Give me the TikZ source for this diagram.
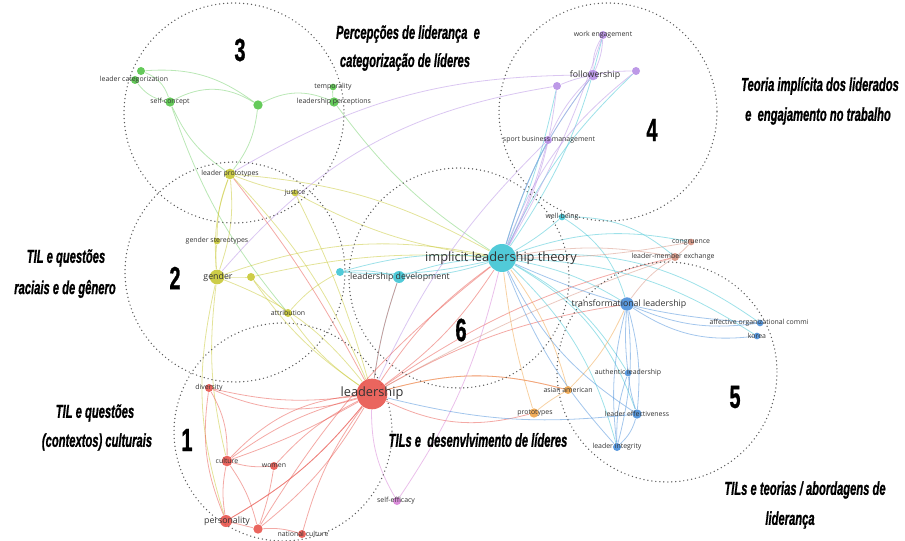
\documentclass[tikz,border=0pt]{standalone}
\usepackage{fontspec}
\usepackage{graphicx}
\setmainfont{Open Sans}
\newfontfamily\titlefont[BoldItalicFeatures={FakeBold=1.2},BoldFeatures={FakeBold=1.2}]{Liberation Sans}
\usetikzlibrary{backgrounds}

\definecolor{cRed}{RGB}{232,84,76}
\definecolor{cCyan}{RGB}{62,196,212}
\definecolor{cGreen}{RGB}{84,196,72}
\definecolor{cYel}{RGB}{200,200,52}
\definecolor{cPur}{RGB}{182,142,228}
\definecolor{cBlue}{RGB}{72,142,218}
\definecolor{cOra}{RGB}{240,164,72}
\definecolor{cBrn}{RGB}{214,146,128}
\definecolor{cPink}{RGB}{214,128,214}

\newcommand{\ttl}[1]{\scalebox{0.6}[1]{\titlefont\bfseries\itshape #1}}
\newcommand{\cnum}[1]{\scalebox{0.62}[1]{\titlefont\bfseries #1}}

\pgfdeclarelayer{edges}
\pgfsetlayers{edges,main}

\tikzset{every picture/.style={line width=0.75pt}}
\tikzset{
  ring/.style={draw=black!65, line width=1.1pt, line cap=round, dash pattern=on 0pt off 3pt},
  dot/.style={circle, inner sep=0pt, draw=none, fill opacity=0.9},
  lbl/.style={font=\fontsize{5.2}{6}\selectfont, text=black!80, inner sep=0pt},
  lblm/.style={font=\fontsize{6.6}{8}\selectfont, text=black!80, inner sep=0pt},
  lblb/.style={font=\fontsize{9.6}{11}\selectfont, text=black!80, inner sep=0pt},
  ttlnode/.style={font=\fontsize{14}{16}\selectfont, inner sep=0pt},
  numnode/.style={font=\fontsize{24}{26}\selectfont, inner sep=0pt},
  edge/.style={line width=0.6pt, draw opacity=0.5},
  eR/.style={edge, draw=cRed},
  eC/.style={edge, draw=cCyan},
  eG/.style={edge, draw=cGreen!80},
  eY/.style={edge, draw=cYel},
  eP/.style={edge, draw=cPur},
  eB/.style={edge, draw=cBlue},
  eO/.style={edge, draw=cOra},
  eN/.style={edge, draw=cBrn},
  eK/.style={edge, draw=cPink}
}

\begin{document}
\begin{tikzpicture}[x=0.75pt,y=0.75pt,yscale=-1,xscale=1]
\useasboundingbox (0,0) rectangle (905,541);

%Shape: Circle (clusters)
\draw[ring] (234,113) circle (110);
\draw[ring] (235,272) circle (110);
\draw[ring] (283,432) circle (109);
\draw[ring] (459,278) circle (110);
\draw[ring] (608,112) circle (109);
\draw[ring] (667,372) circle (110);

%Dots: cluster 3
\node[dot, fill=cGreen, minimum size=6pt] (lc) at (135,80) {};
\node[dot, fill=cGreen, minimum size=6pt] (lc2) at (141,71) {};
\node[dot, fill=cGreen, minimum size=7pt] (sc) at (170,102) {};
\node[dot, fill=cGreen, minimum size=7pt] (g3) at (258,105) {};
\node[dot, fill=cGreen, minimum size=5pt] (tmp) at (333,87) {};
\node[dot, fill=cGreen, minimum size=7pt] (lp) at (334,102) {};
%Dots: cluster 2
\node[dot, fill=cYel, minimum size=8pt] (lpro) at (230,174) {};
\node[dot, fill=cYel, minimum size=5pt] (jus) at (295,193) {};
\node[dot, fill=cYel, minimum size=5pt] (gs) at (217,241) {};
\node[dot, fill=cYel, minimum size=11pt] (gen) at (217,277) {};
\node[dot, fill=cYel, minimum size=6pt] (y2) at (251,277) {};
\node[dot, fill=cYel, minimum size=6pt] (att) at (288,313) {};
%Dots: cluster 6
\node[dot, fill=cCyan, minimum size=21pt] (ilt) at (502,258) {};
\node[dot, fill=cCyan, minimum size=9pt] (ld) at (399,277) {};
\node[dot, fill=cCyan, minimum size=6pt] (c2) at (340,272) {};
\node[dot, fill=cCyan, minimum size=5pt] (wb) at (562,217) {};
%Dots: cluster 4
\node[dot, fill=cPur, minimum size=6pt] (we) at (603,35) {};
\node[dot, fill=cPur, minimum size=8pt] (fol) at (593,75) {};
\node[dot, fill=cPur, minimum size=6pt] (p3) at (557,86) {};
\node[dot, fill=cPur, minimum size=6pt] (p4) at (636,71) {};
\node[dot, fill=cPur, minimum size=6pt] (sbm) at (548,140) {};
%Dots: cluster 1
\node[dot, fill=cRed, minimum size=23pt] (lead) at (372,394) {};
\node[dot, fill=cRed, minimum size=6pt] (div) at (209,388) {};
\node[dot, fill=cRed, minimum size=8pt] (cul) at (227,461) {};
\node[dot, fill=cRed, minimum size=6pt] (wom) at (274,466) {};
\node[dot, fill=cRed, minimum size=9pt] (per) at (226,521) {};
\node[dot, fill=cRed, minimum size=7pt] (r2) at (258,529) {};
\node[dot, fill=cRed, minimum size=6pt] (nc) at (302,534) {};
\node[dot, fill=cPink, minimum size=6pt] (se) at (397,501) {};
%Dots: orange / brown
\node[dot, fill=cOra, minimum size=6pt] (aa) at (568,390) {};
\node[dot, fill=cOra, minimum size=7pt] (pro) at (534,413) {};
\node[dot, fill=cBrn, minimum size=5pt] (cong) at (691,242) {};
\node[dot, fill=cBrn, minimum size=6pt] (lmx) at (675,257) {};
%Dots: cluster 5
\node[dot, fill=cBlue, minimum size=10pt] (tl) at (627,304) {};
\node[dot, fill=cBlue, minimum size=5pt] (aoc) at (760,323) {};
\node[dot, fill=cBlue, minimum size=5pt] (kor) at (757,336) {};
\node[dot, fill=cBlue, minimum size=5pt] (al) at (628,373) {};
\node[dot, fill=cBlue, minimum size=7pt] (le) at (637,414) {};
\node[dot, fill=cBlue, minimum size=6pt] (li) at (617,447) {};

\begin{pgfonlayer}{edges}
%Links
\foreach \a/\b/\k in {lc/sc/20, lc2/sc/-25, sc/g3/-30, g3/lp/-25, tmp/lp/10, sc/lpro/15, sc/att/10, g3/lpro/-15, lp/ilt/10, lc2/g3/-20}
  \draw[eG] (\a) to[bend left=\k] (\b);
\foreach \a/\b/\k in {lpro/gs/10, lpro/gen/-12, lpro/gen/12, lpro/jus/5, lpro/ilt/-12, gs/gen/5, gen/y2/0, gen/lead/-15, gen/ilt/-15, gen/cul/10, gen/per/15, y2/att/5, y2/lead/10, y2/ilt/-8, jus/lead/-5, jus/ilt/10, att/lead/10, att/c2/-10, lpro/lead/-10}
  \draw[eY] (\a) to[bend left=\k] (\b);
\foreach \a/\b/\k in {ilt/ld/8, ilt/ld/-8, ilt/c2/10, ilt/c2/-8, ilt/wb/5, ilt/fol/-10, ilt/we/10, ilt/sbm/-5, ilt/p3/5, ilt/p4/-10, ilt/tl/-10, ilt/al/-15, ilt/le/-20, ilt/li/-15, ilt/aoc/-20, ilt/cong/-15, ilt/kor/-15, ld/c2/10, ld/lead/5, wb/tl/-20, wb/lmx/-20}
  \draw[eC] (\a) to[bend left=\k] (\b);
\foreach \a/\b/\k in {fol/we/10, fol/we/-15, fol/p3/5, fol/p4/-5, fol/sbm/10, fol/ilt/10, p3/ilt/-10, p4/ilt/15, sbm/ilt/-5, sbm/lead/10, we/ilt/-5, fol/lpro/15, p3/gen/20}
  \draw[eP] (\a) to[bend left=\k] (\b);
\foreach \a/\b/\k in {lead/div/-20, lead/cul/10, lead/cul/-5, lead/wom/10, lead/per/-10, lead/r2/-10, lead/nc/10, lead/ilt/-10, lead/ilt/10, lead/aa/-15, lead/pro/20, lead/tl/-10, lead/lmx/-10, lead/ld/-5, lead/lpro/5, div/cul/-15, div/per/15, cul/wom/10, cul/per/10, cul/r2/-10, wom/r2/-5, per/r2/0, r2/nc/-10, per/lead/10, r2/ilt/-10, div/lead/10, cul/lead/-20}
  \draw[eR] (\a) to[bend left=\k] (\b);
\foreach \a/\b/\k in {se/lead/-15, se/ilt/10}
  \draw[eK] (\a) to[bend left=\k] (\b);
\foreach \a/\b/\k in {aa/pro/5, aa/ilt/10, aa/tl/10, pro/ilt/-5, aa/lead/15}
  \draw[eO] (\a) to[bend left=\k] (\b);
\foreach \a/\b/\k in {lmx/cong/5, lmx/ilt/10, cong/ilt/-5, lmx/tl/10, lmx/lead/5}
  \draw[eN] (\a) to[bend left=\k] (\b);
\foreach \a/\b/\k in {tl/aoc/15, tl/kor/20, tl/al/5, tl/le/-10, tl/li/-10, tl/li/10, al/le/5, al/li/10, le/li/-15, le/lead/-10, aoc/ilt/-10, le/ilt/-15, li/ilt/-10}
  \draw[eB] (\a) to[bend left=\k] (\b);
\end{pgfonlayer}

% Text Node (keywords)
\node[lbl] (lc-t) at (134,80) {leader categorization};
\node[lbl] (sc-t) at (170,102) {self-concept};
\node[lbl] (tmp-t) at (333,87) {temporality};
\node[lbl] (lp-t) at (334,102) {leadership perceptions};
\node[lbl] (lpro-t) at (230,174) {leader prototypes};
\node[lbl] (jus-t) at (295,193) {justice};
\node[lbl] (gs-t) at (217,241) {gender stereotypes};
\node[lblm] (gen-t) at (218,277) {gender};
\node[lbl] (att-t) at (288,313) {attribution};
\node[lblb] (ilt-t) at (501,258) {implicit leadership theory};
\node[lblm] (ld-t) at (400,277) {leadership development};
\node[lbl] (wb-t) at (562,217) {well-being};
\node[lbl] (we-t) at (603,35) {work engagement};
\node[lblm] (fol-t) at (595,75) {followership};
\node[lbl] (sbm-t) at (549,140) {sport business management};
\node[lblb] (lead-t) at (372,393) {leadership};
\node[lbl] (div-t) at (209,388) {diversity};
\node[lbl] (cul-t) at (227,461) {culture};
\node[lbl] (wom-t) at (274,466) {women};
\node[lblm] (per-t) at (227,521) {personality};
\node[lbl] (nc-t) at (303,534) {national culture};
\node[lbl] (se-t) at (396,501) {self-efficacy};
\node[lbl] (aa-t) at (568,390) {asian american};
\node[lbl] (pro-t) at (535,413) {prototypes};
\node[lbl] (cong-t) at (691,242) {congruence};
\node[lbl] (lmx-t) at (673,257) {leader-member exchange};
\node[lblm] (tl-t) at (629,304) {transformational leadership};
\node[lbl] (aoc-t) at (759,323) {affective organizational commi};
\node[lbl] (kor-t) at (757,336) {korea};
\node[lbl] (al-t) at (628,373) {authentic leadership};
\node[lbl] (le-t) at (637,414) {leader effectiveness};
\node[lbl] (li-t) at (617,447) {leader integrity};

% Text Node (cluster numbers)
\node[numnode] (n3) at (240,50) {\cnum{3}};
\node[numnode] (n4) at (652,130) {\cnum{4}};
\node[numnode] (n2) at (175,278) {\cnum{2}};
\node[numnode] (n6) at (461,330) {\cnum{6}};
\node[numnode] (n1) at (187,440) {\cnum{1}};
\node[numnode] (n5) at (735,397) {\cnum{5}};

% Text Node (cluster titles)
\node[ttlnode] (t3a) at (408,34) {\ttl{Percepções de liderança\ \ e}};
\node[ttlnode] (t3b) at (405,62) {\ttl{categorização de líderes}};
\node[ttlnode] (t4a) at (820,86) {\ttl{Teoria implícita dos liderados}};
\node[ttlnode] (t4b) at (818,116) {\ttl{e\ \ engajamento no trabalho}};
\node[ttlnode] (t2a) at (66,258) {\ttl{TIL e questões}};
\node[ttlnode] (t2b) at (65,289) {\ttl{raciais e de gênero}};
\node[ttlnode] (t1a) at (95,413) {\ttl{TIL e questões}};
\node[ttlnode] (t1b) at (97,442) {\ttl{(contextos) culturais}};
\node[ttlnode] (t6) at (478,440) {\ttl{TILs e\ \ desenvlvimento de líderes}};
\node[ttlnode] (t5a) at (805,490) {\ttl{TILs e teorias / abordagens de}};
\node[ttlnode] (t5b) at (790,520) {\ttl{liderança}};

\end{tikzpicture}
\end{document}
